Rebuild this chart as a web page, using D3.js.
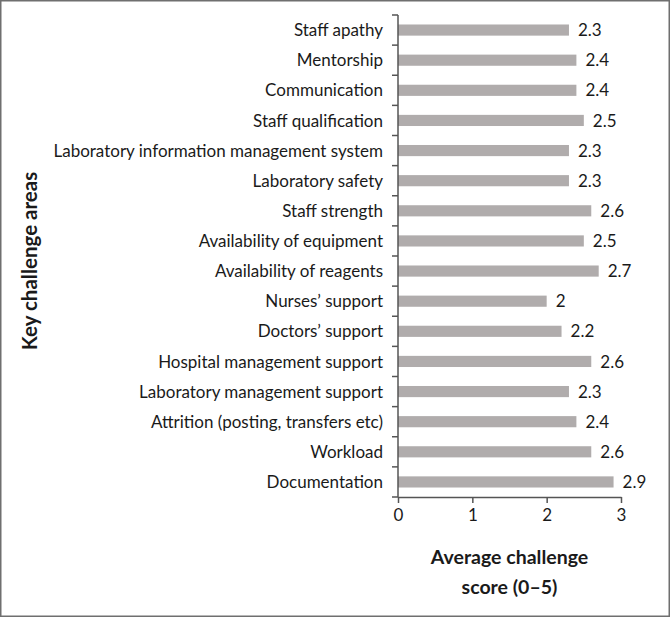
<!DOCTYPE html>
<html>
<head>
<meta charset="utf-8">
<script src="https://cdn.jsdelivr.net/npm/d3@7"></script>
<style>
  body { margin: 0; background: #fff; }
  text { font-family: Lato, "Open Sans", sans-serif; fill: #1a1a1a; }
</style>
</head>
<body>
<div id="chart"></div>
<script>
const categories = ["Staff apathy", "Mentorship", "Communication", "Staff qualification",
  "Laboratory information management system", "Laboratory safety", "Staff strength",
  "Availability of equipment", "Availability of reagents", "Nurses\u2019 support",
  "Doctors\u2019 support", "Hospital management support", "Laboratory management support",
  "Attrition (posting, transfers etc)", "Workload", "Documentation"]
const scores = [2.3, 2.4, 2.4, 2.5, 2.3, 2.3, 2.6, 2.5, 2.7, 2, 2.2, 2.6, 2.3, 2.4, 2.6, 2.9]
const xTicks = [0, 1, 2, 3]

const width = 670
const height = 617
const margin = {top: 15, bottom: 120, left: 398, right: 49}

const svg = d3.select("#chart").append("svg").attr("width", width).attr("height", height)

// frame round the figure
svg.append("rect").attr("x", 0.75).attr("y", 0.75).attr("width", width - 1.5).attr("height", height - 1.5)
  .attr("fill", "none").attr("stroke", "#6f6f6f").attr("stroke-width", 1.5)

const x = d3.scaleLinear().domain([0, 3]).range([margin.left, width - margin.right])
const y = d3.scaleBand().domain(categories).range([margin.top, height - margin.bottom]).paddingInner(0.63).paddingOuter(0.315)

const data = categories.map((c, i) => ({name: c, score: scores[i]}))

svg.selectAll("rect.bar").data(data).enter().append("rect")
  .attr("class", "bar")
  .attr("x", x(0))
  .attr("y", d => y(d.name))
  .attr("width", d => x(d.score) - x(0))
  .attr("height", y.bandwidth())
  .attr("fill", "#b0acac")

svg.selectAll("text.val").data(data).enter().append("text")
  .attr("class", "val")
  .attr("x", d => x(d.score) + 9)
  .attr("y", d => y(d.name) + y.bandwidth() / 2)
  .attr("dy", "0.36em")
  .style("font-size", "17px")
  .text(d => d.score)

// y axis: ticks on category boundaries
const yAxisGroup = svg.append("g")
yAxisGroup.append("line").attr("x1", x(0)).attr("x2", x(0))
  .attr("y1", margin.top).attr("y2", height - margin.bottom)
  .attr("stroke", "#555").attr("stroke-width", 1.5)
const step = y.step()
yAxisGroup.selectAll("line.tk").data(d3.range(categories.length + 1)).enter().append("line")
  .attr("class", "tk")
  .attr("x1", x(0) - 6).attr("x2", x(0))
  .attr("y1", i => margin.top + i * step).attr("y2", i => margin.top + i * step)
  .attr("stroke", "#555").attr("stroke-width", 1.5)
yAxisGroup.selectAll("text").data(categories).enter().append("text")
  .attr("x", x(0) - 15)
  .attr("y", d => y(d) + y.bandwidth() / 2)
  .attr("dy", "0.36em")
  .attr("text-anchor", "end")
  .style("font-size", "17px")
  .text(d => d)

// x axis
const xAxis = d3.axisBottom(x).tickValues(xTicks).tickSize(6).tickSizeOuter(0).tickFormat(d3.format("d"))
const xAxisGroup = svg.append("g").attr("transform", `translate(0, ${height - margin.bottom})`).call(xAxis)
xAxisGroup.select(".domain").attr("stroke", "#555").attr("stroke-width", 1.5)
xAxisGroup.selectAll(".tick line").attr("stroke", "#555").attr("stroke-width", 1.5)
xAxisGroup.selectAll(".tick text").attr("y", 12).style("font-size", "17px").style("font-family", "Lato, sans-serif").attr("fill", "#1a1a1a")

// titles
const xMid = (x(0) + x(3)) / 2
svg.append("text").attr("x", xMid).attr("y", 564).attr("text-anchor", "middle")
  .style("font-size", "19.5px").style("font-weight", "bold").text("Average challenge")
svg.append("text").attr("x", xMid).attr("y", 594).attr("text-anchor", "middle")
  .style("font-size", "19.5px").style("font-weight", "bold").text("score (0\u20135)")
svg.append("text").attr("transform", "translate(37, 261) rotate(-90)").attr("text-anchor", "middle")
  .style("font-size", "20.5px").style("font-weight", "bold").text("Key challenge areas")
</script>
</body>
</html>
